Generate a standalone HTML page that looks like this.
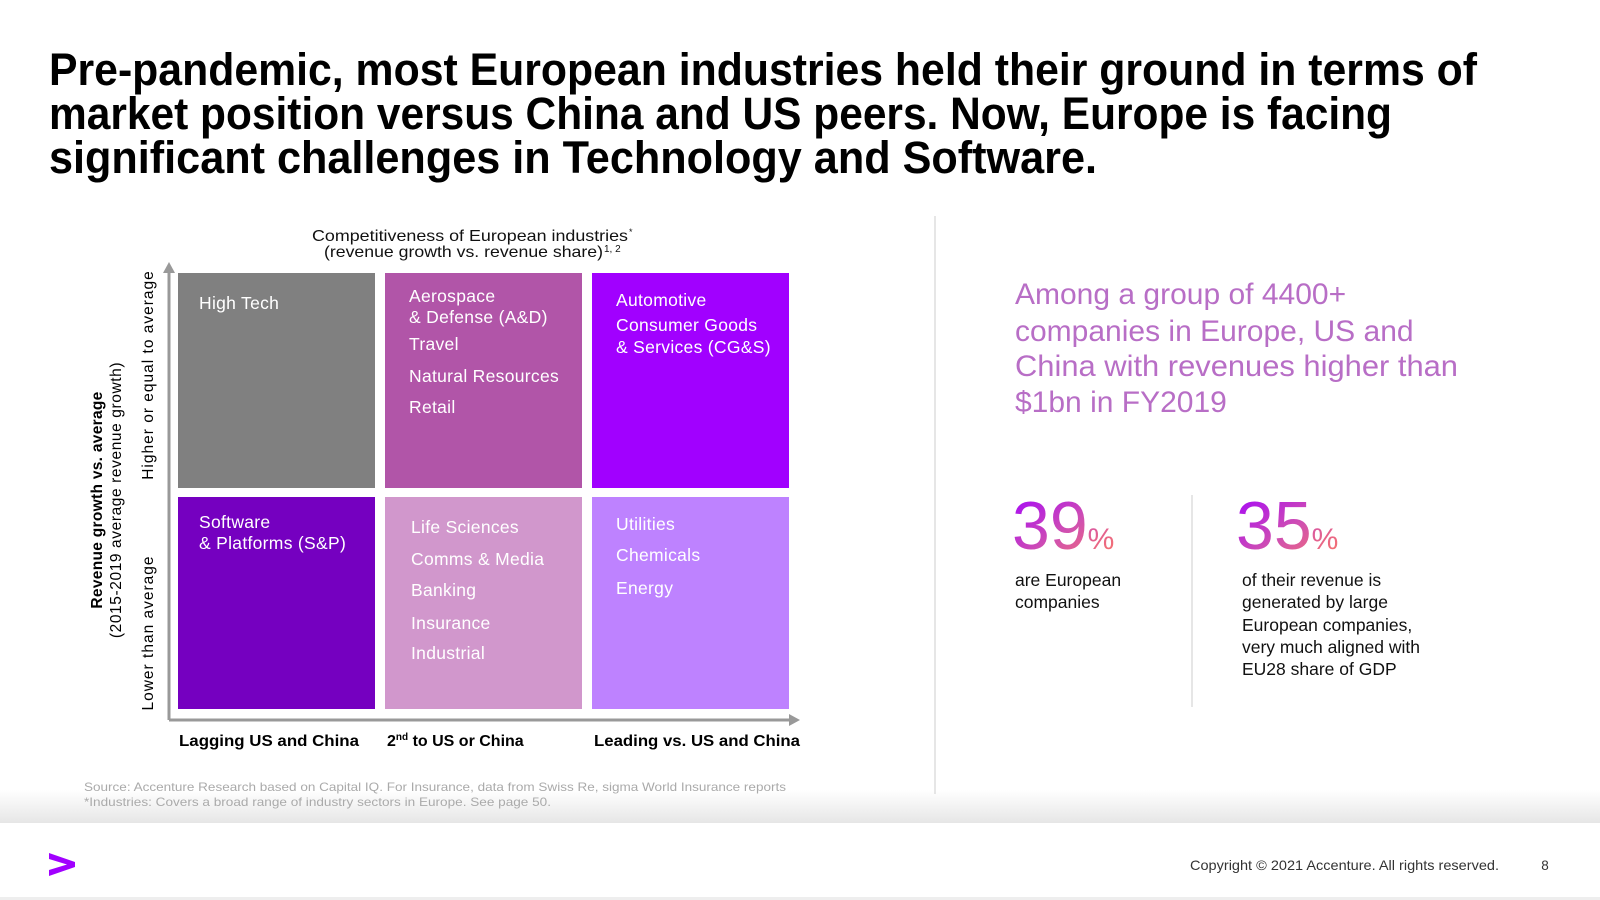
<!DOCTYPE html>
<html><head><meta charset="utf-8"><style>
html,body{margin:0;padding:0;background:#fff;}
svg{display:block;font-family:"Liberation Sans",sans-serif;}
</style></head><body>
<svg id="s" width="1600" height="900" viewBox="0 0 1600 900" xmlns="http://www.w3.org/2000/svg">
<defs>
<linearGradient id="num" x1="0" y1="0" x2="1" y2="1">
<stop offset="0" stop-color="#a100ff"/><stop offset="0.55" stop-color="#d050b0"/><stop offset="1" stop-color="#ff7a60"/>
</linearGradient>
<linearGradient id="band" x1="0" y1="0" x2="0" y2="1">
<stop offset="0" stop-color="#fff"/><stop offset="1" stop-color="#e6e6e6"/>
</linearGradient>
</defs>
<rect x="0" y="790" width="1600" height="33" fill="url(#band)"/>
<g font-weight="bold" font-size="45" fill="#000">
<text x="49" y="85" textLength="1428" lengthAdjust="spacingAndGlyphs">Pre-pandemic, most European industries held their ground in terms of</text>
<text x="49" y="129" textLength="1343" lengthAdjust="spacingAndGlyphs">market position versus China and US peers. Now, Europe is facing</text>
<text x="49" y="173" textLength="1048" lengthAdjust="spacingAndGlyphs">significant challenges in Technology and Software.</text>
</g>
<g font-size="16" fill="#111">
<text x="312" y="241" textLength="316" lengthAdjust="spacingAndGlyphs">Competitiveness of European industries</text>
<text x="629" y="235" font-size="9">*</text>
<text x="324" y="257" textLength="279" lengthAdjust="spacingAndGlyphs">(revenue growth vs. revenue share)</text>
<text x="604" y="252" font-size="10">1, 2</text>
</g>
<g id="cells"></g>
<g stroke="#999" stroke-width="3" fill="#999">
<line x1="169" y1="270" x2="169" y2="720"/>
<polygon points="163,273 169,262 175,273" stroke="none"/>
<line x1="169" y1="720" x2="790" y2="720"/>
<polygon points="789,714 800,720 789,726" stroke="none"/>
</g>
<g fill="#000" text-anchor="middle">
<text transform="translate(102,500) rotate(-90)" font-size="15.5" font-weight="bold" letter-spacing="0.3">Revenue growth vs. average</text>
<text transform="translate(121,500) rotate(-90)" font-size="15.5" letter-spacing="0.6">(2015-2019 average revenue growth)</text>
<text transform="translate(153,375) rotate(-90)" font-size="15.5" letter-spacing="1">Higher or equal to average</text>
<text transform="translate(153,633) rotate(-90)" font-size="15.5" letter-spacing="1">Lower than average</text>
</g>
<g font-size="16" font-weight="bold" fill="#000">
<text x="179" y="746" textLength="180" lengthAdjust="spacingAndGlyphs">Lagging US and China</text>
<text x="387" y="746">2<tspan font-size="10" dy="-6">nd</tspan><tspan dy="6"> to US or China</tspan></text>
<text x="594" y="746" textLength="206" lengthAdjust="spacingAndGlyphs">Leading vs. US and China</text>
</g>
<g font-size="12" fill="#aaa">
<text x="84" y="791" textLength="702" lengthAdjust="spacingAndGlyphs">Source: Accenture Research based on Capital IQ. For Insurance, data from Swiss Re, sigma World Insurance reports</text>
<text x="84" y="806" textLength="467" lengthAdjust="spacingAndGlyphs">*Industries: Covers a broad range of industry sectors in Europe. See page 50.</text>
</g>
<line x1="935" y1="216" x2="935" y2="794" stroke="#ddd" stroke-width="1.5"/>
<g font-size="30" fill="#b86ec6">
<text x="1015" y="304">Among a group of 4400+</text>
<text x="1015" y="341">companies in Europe, US and</text>
<text x="1015" y="376" textLength="443" lengthAdjust="spacingAndGlyphs">China with revenues higher than</text>
<text x="1015" y="412">$1bn in FY2019</text>
</g>
<g>
<text x="1012" y="549" font-size="68" fill="url(#num)">39<tspan font-size="30">%</tspan></text>
<text x="1015" y="586" font-size="17.5" fill="#111">are European</text>
<text x="1015" y="608" font-size="17.5" fill="#111">companies</text>
</g>
<line x1="1192" y1="495" x2="1192" y2="707" stroke="#ddd" stroke-width="1.5"/>
<g>
<text x="1236" y="549" font-size="68" fill="url(#num)">35<tspan font-size="30">%</tspan></text>
<g font-size="17.5" fill="#111">
<text x="1242" y="586">of their revenue is</text>
<text x="1242" y="608">generated by large</text>
<text x="1242" y="631">European companies,</text>
<text x="1242" y="653">very much aligned with</text>
<text x="1242" y="675">EU28 share of GDP</text>
</g>
</g>
<rect x="0" y="897" width="1600" height="3" fill="#eee"/>
<polygon points="49,853 75,862 75,867 49,876 49,870 67,864.5 49,859" fill="#a100ff"/>
<text x="1499" y="870" font-size="14" fill="#333" text-anchor="end" textLength="309" lengthAdjust="spacingAndGlyphs">Copyright © 2021 Accenture. All rights reserved.</text>
<text x="1545" y="870" font-size="13.5" fill="#333" text-anchor="middle">8</text>
</svg>
<script>
const colStarts = [178, 385, 592];
const rowStarts = [273, 497];
const cellColors = ["#808080","#b155a8","#a100ff","#7500c0","#d197cc","#be82ff"];
const cellNames = ["high-tech","aerospace-travel-resources-retail","automotive-cgs","software-platforms","life-sciences-group","utilities-group"];
const cellLabels = [
 ["High Tech"],
 ["Aerospace","& Defense (A&D)","Travel","Natural Resources","Retail"],
 ["Automotive","Consumer Goods","& Services (CG&S)"],
 ["Software","& Platforms (S&P)"],
 ["Life Sciences","Comms & Media","Banking","Insurance","Industrial"],
 ["Utilities","Chemicals","Energy"]
];
const labelYs = [
 [309],[302,323,350,382,413],[306,331,353],
 [528,549],[533,565,596,629,659],[530,561,594]
];
const NS="http://www.w3.org/2000/svg";
const g=document.getElementById('cells');
for(let i=0;i<6;i++){
 const r=Math.floor(i/3), c=i%3;
 const x=colStarts[c], y=rowStarts[r], w=197, h=r===0?215:212;
 const rect=document.createElementNS(NS,'rect');
 rect.setAttribute('x',x);rect.setAttribute('y',y);rect.setAttribute('width',w);rect.setAttribute('height',h);
 rect.setAttribute('fill',cellColors[i]);
 
 
 g.appendChild(rect);
 cellLabels[i].forEach((t,k)=>{
  const tx=document.createElementNS(NS,'text');
  tx.setAttribute('x',x+(c===0?21:(c===1?(r===0?24:26):24)));
  tx.setAttribute('y',labelYs[i][k]);
  tx.setAttribute('fill','#fff');tx.setAttribute('font-size','17.5');
  tx.setAttribute('letter-spacing','0.3');
  tx.textContent=t;
  
  
  g.appendChild(tx);
 });
}
</script>
</body></html>
